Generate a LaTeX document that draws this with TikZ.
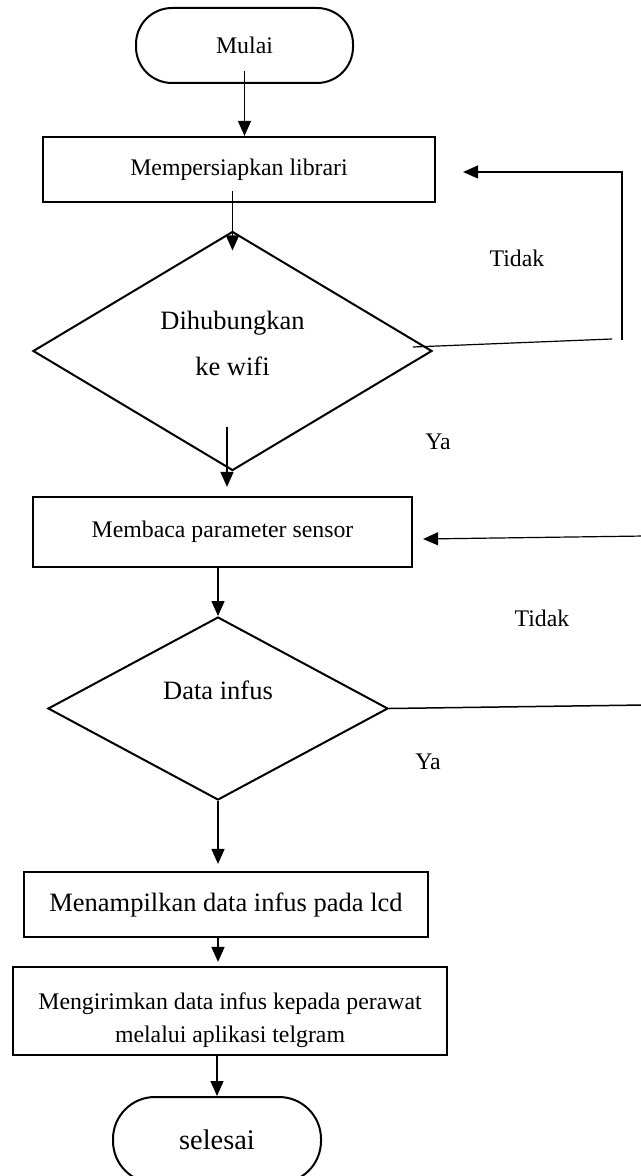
\documentclass[tikz,border=0pt]{standalone}
\usepackage{fontspec}
\setmainfont{Liberation Serif}
\usepackage{tikz}
\usetikzlibrary{arrows.meta,positioning,shapes.geometric,calc}
\newcommand{\fskecil}{\fontsize{11.9pt}{14pt}\selectfont}
\newcommand{\fsbesar}{\fontsize{13.25pt}{23pt}\selectfont}
\tikzset{
  term/.style={draw,line width=1pt,rounded corners=18pt,
               minimum width=108.5pt,minimum height=37.5pt,
               inner sep=0pt,font=\fskecil},
  blk/.style={draw,line width=1.1pt,inner sep=0pt,font=\fskecil},
  dcs/.style={draw,diamond,line width=1pt,inner sep=0pt,
              font=\fsbesar,align=center},
  arr/.style={-{Triangle[length=7.5pt,width=6.5pt]},line width=0.75pt},
  arrthin/.style={arr,line width=0.6pt},
  ln/.style={line width=0.6pt},
  lbl/.style={font=\fskecil,inner sep=0pt},
}

\begin{document}
\begin{tikzpicture}[x=0.5pt,y=-0.5pt]
\useasboundingbox (0,0) rectangle (641,1176);
\clip (0,0) rectangle (641,1176);

% alur utama
\node[term] (mulai) at (244.5,45.5) {Mulai};
\node[blk,minimum width=196pt,minimum height=32.5pt] (librari) at (239,169.5)
  {Mempersiapkan librari};
\node[dcs,minimum width=199.5pt,minimum height=119.5pt,text depth=8pt] (wifi)
  at (232.5,351) {Dihubungkan\\ke wifi};
\node[blk,minimum width=189.5pt,minimum height=35pt] (sensor) at (222.5,532)
  {Membaca parameter sensor};
\node[dcs,minimum width=170pt,minimum height=91.5pt,text depth=18pt] (infus)
  at (218,708.5) {Data infus};
\node[blk,minimum width=202pt,minimum height=32.5pt,font=\fsbesar] (lcd)
  at (226,904.5) {Menampilkan data infus pada lcd};
\node[blk,minimum width=217pt,minimum height=44pt,align=center,
      font=\fontsize{11.9pt}{16.5pt}\selectfont,text height=34pt,
      text depth=2.5pt] (kirim)
  at (230,1011) {Mengirimkan data infus kepada perawat\\melalui aplikasi telgram};
\node[term,minimum width=104pt,minimum height=43pt,rounded corners=21pt,
      font=\fontsize{14.2pt}{17pt}\selectfont] (selesai) at (217,1140) {selesai};

% label cabang
\node[lbl] (tidak1) at (517,258) {Tidak};
\node[lbl] (ya1) at (438,442) {Ya};
\node[lbl] (tidak2) at (542,618) {Tidak};
\node[lbl] (ya2) at (428,762) {Ya};

% panah
\draw[arr] ([yshift=6.5pt]mulai.south) -- (mulai.south |- librari.north);
\draw[arr] ($(librari.south -| wifi.north)+(0,-12)$) -- ($(wifi.north)+(0,20)$);
\draw[arr] ($(wifi.south)+(-5.5,-45)$) -- ($(wifi.south |- sensor.north)+(-5.5,-9)$);
\draw[arr] (sensor.south -| infus.north) -- (infus.north);
\draw[arr] (infus.south) -- ($(infus.south |- lcd.north)+(0,-7)$);
\draw[arr] (infus.south |- lcd.south) -- ($(infus.south |- kirim.north)+(0,-4)$);
\draw[arr] (kirim.south -| selesai.north) -- (selesai.north);

% kembali
\coordinate (balik1a) at (612,339);
\coordinate (balik1b) at (622,340);
\coordinate (balik1c) at (622,172);
\draw[ln] ($(wifi.east)+(-20,-4)$) -- (balik1a);
\draw[arrthin] (balik1b) -- (balik1c) -- ($(librari.east)+(27,2.5)$);
\coordinate (balik2a) at (645,705);
\coordinate (balik2b) at (645,536);
\draw[line width=0.75pt] (infus.east) -- (balik2a);
\draw[arrthin] (balik2b) -- ($(sensor.east)+(10,7)$);
\end{tikzpicture}
\end{document}
